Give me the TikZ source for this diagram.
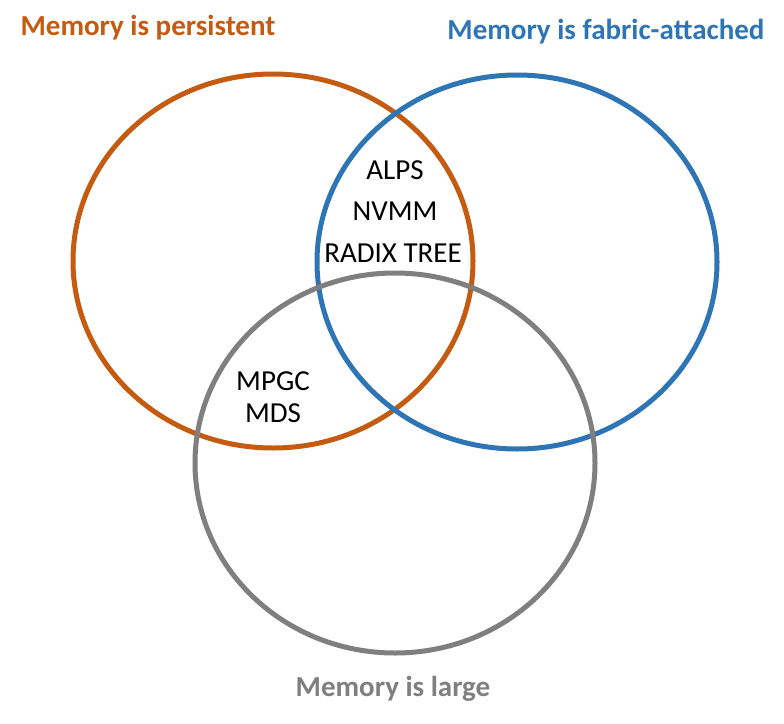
\documentclass[tikz,border=0pt]{standalone}
\usepackage{fontspec}
\setmainfont{Carlito}
\definecolor{cOrange}{HTML}{C55A11}
\definecolor{cBlue}{HTML}{2E75B6}
\definecolor{cGray}{HTML}{7F7F7F}
\begin{document}
\begin{tikzpicture}[x=1pt,y=-1pt,
  setring/.style={line width=5pt},
  settitle/.style={font=\fontsize{29}{33}\selectfont\bfseries, inner sep=0pt, anchor=center},
  member/.style={font=\fontsize{29}{33}\selectfont, inner sep=0pt, anchor=center, text=black}]
\useasboundingbox[fill=white] (0,0) rectangle (784,723);
\draw[setring, cOrange] (273,261) ellipse [x radius=200, y radius=187];
\draw[setring, cBlue] (517,262) ellipse [x radius=200, y radius=187];
\draw[setring, cGray] (395,463) ellipse [x radius=200, y radius=190];
\node[settitle, text=cOrange] (tp) at (148,28) {Memory is persistent};
\node[settitle, text=cBlue] (tf) at (606,32) {Memory is fabric-attached};
\node[settitle, text=cGray] (tl) at (393,689) {Memory is large};
\node[member] (alps) at (395,170) {ALPS};
\node[member] (nvmm) at (395,211) {NVMM};
\node[member] (radix) at (393,253) {RADIX TREE};
\node[member] (mpgc) at (273,381) {MPGC};
\node[member] (mds) at (273,413) {MDS};
\end{tikzpicture}
\end{document}
